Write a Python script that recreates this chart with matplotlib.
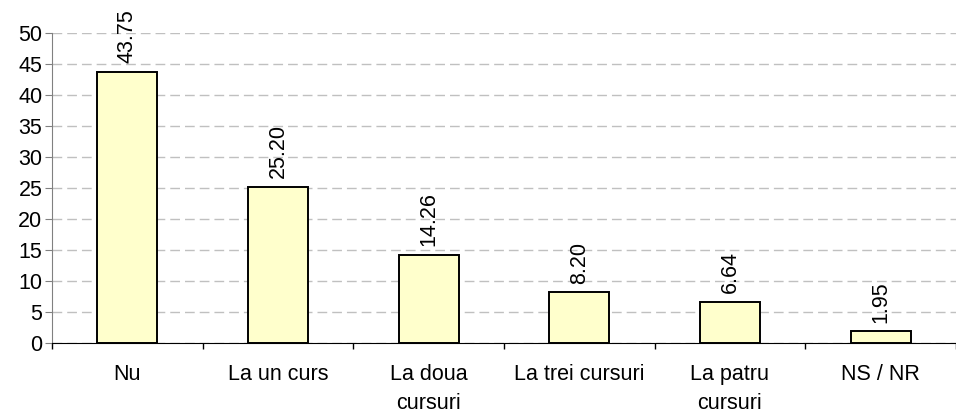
import numpy as np
from matplotlib import pyplot as plt

categories = ['Nu', 'La un curs', 'La doua\ncursuri', 'La trei cursuri', 'La patru\ncursuri', 'NS / NR']
values = [43.75, 25.20, 14.26, 8.20, 6.64, 1.95]
yticks = [0, 5, 10, 15, 20, 25, 30, 35, 40, 45, 50]

plt.rcParams['font.family'] = ['Liberation Sans', 'DejaVu Sans']
fs = 15.5

fig = plt.figure(figsize=(9.56, 4.15), dpi=100)
# axis runs past the right edge of the picture, as in the original
ax = fig.add_axes([52 / 956, 72 / 415, 904 / 956, 310 / 415])

x = np.arange(len(categories))
ax.bar(x, values, width=0.4, color='#FFFFCC', edgecolor='black', linewidth=1.4, zorder=3)

for xi, v in zip(x, values):
    ax.annotate('%.2f' % v, (xi, v), xytext=(0, 6), textcoords='offset points',
                rotation=90, ha='center', va='bottom', fontsize=fs)

ax.set_xlim(-0.5, -0.5 + 904 / 152)
ax.set_ylim(0, 50)
ax.set_yticks(yticks)
ax.tick_params(axis='y', labelsize=fs, length=5, color='#808080', pad=2)

# category labels in the middle, tick marks between categories
ax.set_xticks(x)
ax.set_xticklabels(categories, fontsize=fs, linespacing=1.5, va='top')
ax.tick_params(axis='x', which='major', length=0, pad=15)
ax.set_xticks(np.arange(len(categories) + 1) - 0.5, minor=True)
ax.tick_params(axis='x', which='minor', length=4, color='black', width=1)

ax.yaxis.grid(True, linestyle=(0, (7, 3.6)), color='#c0c0c0', linewidth=1, zorder=0)
ax.set_axisbelow(True)

ax.spines['top'].set_visible(False)
ax.spines['right'].set_visible(False)
ax.spines['left'].set_color('#808080')
ax.spines['bottom'].set_color('black')

plt.savefig('out.png', dpi=100)
